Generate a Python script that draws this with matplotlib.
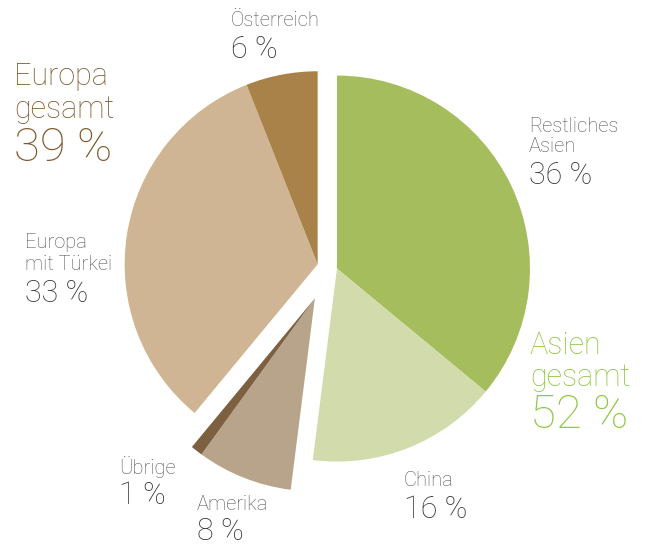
import numpy as np
import matplotlib
matplotlib.use('Agg')
import matplotlib.pyplot as plt
from matplotlib.patches import Wedge

# ── dados (sentido horário a partir do topo)
categorias = ["Restliches Asien", "China", "Amerika", "Übrige", "Europa mit Türkei", "Österreich"]
valores = [36, 16, 8, 1, 33, 6]
grupos = ["asien", "asien", "amerika", "amerika", "europa", "europa"]
cores = ["#a6bd5e", "#d1dbab", "#b8a48a", "#7d6040", "#cfb594", "#a88248"]

# deslocamento de cada grupo (px)
deslocamento = {"asien": 9, "europa": 11, "amerika": 33}

W, H = 646, 546
fig = plt.figure(figsize=(W / 100, H / 100), dpi=100)
ax = fig.add_axes([0, 0, 1, 1])
ax.set_xlim(0, W)
ax.set_ylim(0, H)
ax.set_aspect('equal')
ax.axis('off')

cx, cy = 328, H - 268
raio = 193

total = sum(valores)
frac = np.array(valores) / total
inicio = np.concatenate([[0], np.cumsum(frac)[:-1]])

# ângulo médio de cada grupo
meio = {}
for g in set(grupos):
    idx = [i for i, gg in enumerate(grupos) if gg == g]
    s0 = inicio[idx[0]]
    s1 = inicio[idx[-1]] + frac[idx[-1]]
    meio[g] = 90 - 360 * (s0 + s1) / 2

for i, nome in enumerate(categorias):
    t2 = 90 - 360 * inicio[i]
    t1 = 90 - 360 * (inicio[i] + frac[i])
    g = grupos[i]
    a = np.deg2rad(meio[g])
    d = deslocamento[g]
    centro = (cx + d * np.cos(a), cy + d * np.sin(a))
    ax.add_patch(Wedge(centro, raio, t1, t2, facecolor=cores[i], edgecolor='none'))

FONTE = ['Roboto', 'DejaVu Sans']
CINZA_NOME = '#555555'
CINZA_PCT = '#333333'


def texto(x, y, s, tam, cor):
    fig.text(x / W, 1 - y / H, s, fontsize=tam, color=cor, ha='left', va='center',
             family=FONTE, fontweight='light')


def rotulo(x, y_nome, linhas, y_pct, pct):
    for k, l in enumerate(linhas):
        texto(x, y_nome + k * 21, l, 14.5, CINZA_NOME)
    texto(x, y_pct, pct, 22, CINZA_PCT)


rotulo(231, 21, ["Österreich"], 50, f"{valores[5]} %")
rotulo(529, 126, ["Restliches", "Asien"], 175, f"{valores[0]} %")
rotulo(25, 243, ["Europa", "mit Türkei"], 293, f"{valores[4]} %")
rotulo(119, 467, ["Übrige"], 496, f"{valores[3]} %")
rotulo(197, 505, ["Amerika"], 532, f"{valores[2]} %")
rotulo(404, 481, ["China"], 510, f"{valores[1]} %")

# totais por região
europa_total = valores[4] + valores[5]
asien_total = valores[0] + valores[1]
MARROM = '#7d5a2d'
VERDE = '#8dc63f'
texto(14, 77, "Europa", 22, MARROM)
texto(14, 110, "gesamt", 22, MARROM)
texto(14, 148, f"{europa_total} %", 34, MARROM)
texto(530, 345, "Asien", 22, VERDE)
texto(530, 377, "gesamt", 22, VERDE)
texto(530, 415, f"{asien_total} %", 34, VERDE)

fig.savefig('out.png', dpi=100)
